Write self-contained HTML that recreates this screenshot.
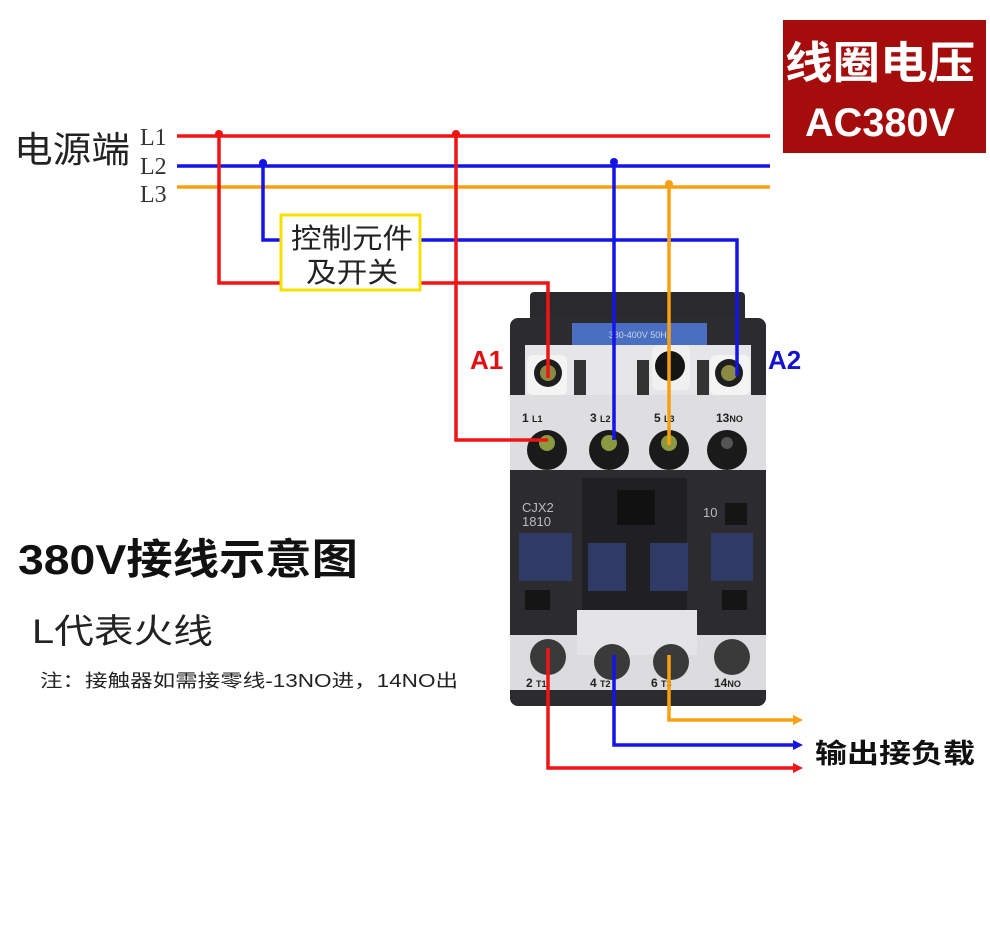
<!DOCTYPE html>
<html><head><meta charset="utf-8"><style>
body{margin:0;background:#fff;}
svg text{font-family:"Liberation Sans","Noto Sans CJK SC",sans-serif;}
svg text.serif{font-family:"Liberation Serif","Noto Serif CJK SC",serif;}
</style></head><body>
<svg width="990" height="921" viewBox="0 0 990 921" xmlns="http://www.w3.org/2000/svg">
<rect width="990" height="921" fill="#fff"/>
<rect x="783" y="20" width="203" height="133" fill="#a50d0d"/>
<text x="880" y="78" text-anchor="middle" font-size="44" font-weight="bold" fill="#fff" textLength="190" lengthAdjust="spacingAndGlyphs">线圈电压</text>
<text x="880" y="136" text-anchor="middle" font-size="40" font-weight="bold" fill="#fff" textLength="150" lengthAdjust="spacingAndGlyphs">AC380V</text>
<text x="14" y="162" font-size="36" fill="#222" textLength="116" lengthAdjust="spacingAndGlyphs">电源端</text>
<text class="serif" x="140" y="145" font-size="24" fill="#333">L1</text>
<text class="serif" x="140" y="174" font-size="24" fill="#333">L2</text>
<text class="serif" x="140" y="202" font-size="24" fill="#333">L3</text>
<rect x="530" y="292" width="215" height="45" rx="4" fill="#2a2a2e"/>
<rect x="510" y="318" width="256" height="388" rx="8" fill="#2c2c30"/>
<rect x="572" y="323" width="135" height="22" fill="#4a6fc0"/>
<text x="640" y="338" text-anchor="middle" font-size="9" fill="#c8d4f0">380-400V 50Hz</text>
<rect x="525" y="345" width="226" height="52" fill="#e6e6e8"/>
<rect x="527" y="355" width="40" height="40" rx="6" fill="#f4f4f4"/>
<rect x="652" y="345" width="38" height="45" rx="6" fill="#f0f0f0"/>
<rect x="710" y="355" width="40" height="40" rx="6" fill="#f4f4f4"/>
<rect x="510" y="395" width="256" height="75" fill="#dedee0"/>
<rect x="574" y="360" width="12" height="35" fill="#333"/>
<rect x="637" y="360" width="12" height="35" fill="#333"/>
<rect x="697" y="360" width="12" height="35" fill="#333"/>
<circle cx="548" cy="373" r="14" fill="#1e1e1e"/><circle cx="548" cy="373" r="8" fill="#8a8a45"/>
<circle cx="670" cy="366" r="15" fill="#151515"/>
<circle cx="729" cy="373" r="14" fill="#1e1e1e"/><circle cx="729" cy="373" r="8" fill="#8a8a45"/>
<g font-size="12" font-weight="bold" fill="#222">
<text x="522" y="422">1 <tspan font-size="9">L1</tspan></text>
<text x="590" y="422">3 <tspan font-size="9">L2</tspan></text>
<text x="654" y="422">5 <tspan font-size="9">L3</tspan></text>
<text x="716" y="422">13<tspan font-size="9">NO</tspan></text>
</g>
<g fill="#1a1a1a">
<circle cx="547" cy="450" r="20"/><circle cx="609" cy="450" r="20"/><circle cx="669" cy="450" r="20"/><circle cx="727" cy="450" r="20"/>
</g>
<g fill="#8a9a40"><circle cx="547" cy="443" r="8"/><circle cx="609" cy="443" r="8"/><circle cx="669" cy="443" r="8"/><circle cx="727" cy="443" r="6" fill="#555"/></g>
<rect x="582" y="478" width="105" height="145" fill="#202024"/>
<rect x="617" y="490" width="38" height="35" fill="#111"/>
<text x="522" y="512" font-size="13" fill="#bbb">CJX2</text>
<text x="522" y="526" font-size="13" fill="#bbb">1810</text>
<text x="703" y="517" font-size="13" fill="#bbb">10</text>
<rect x="725" y="503" width="22" height="22" fill="#151515"/>
<g fill="#2f3a66">
<rect x="519" y="533" width="53" height="48"/><rect x="588" y="543" width="38" height="48"/>
<rect x="650" y="543" width="38" height="48"/><rect x="711" y="533" width="42" height="48"/>
</g>
<rect x="525" y="590" width="25" height="20" fill="#151515"/>
<rect x="722" y="590" width="25" height="20" fill="#151515"/>
<rect x="510" y="635" width="256" height="55" fill="#dcdcde"/>
<rect x="577" y="610" width="120" height="45" fill="#e4e4e6"/>
<g fill="#3a3a3a"><circle cx="548" cy="657" r="18"/><circle cx="612" cy="662" r="18"/><circle cx="671" cy="662" r="18"/><circle cx="732" cy="657" r="18"/></g>
<g font-size="12" font-weight="bold" fill="#222">
<text x="526" y="687">2 <tspan font-size="9">T1</tspan></text>
<text x="590" y="687">4 <tspan font-size="9">T2</tspan></text>
<text x="651" y="687">6 <tspan font-size="9">T3</tspan></text>
<text x="714" y="687">14<tspan font-size="9">NO</tspan></text>
</g>
<g fill="none" stroke-width="3.5">
<path d="M177 136H770" stroke="#f01414"/>
<path d="M177 166H770" stroke="#1414e6"/>
<path d="M177 187H770" stroke="#f8a010"/>
<path d="M219 136V283H281M420 283H548V378" stroke="#f01414"/>
<path d="M263 166V240H281M420 240H737V376" stroke="#1414e6"/>
<path d="M456 136V440H548" stroke="#f01414"/>
<path d="M614 163V440" stroke="#1414e6"/>
<path d="M669 185V445" stroke="#f8a010"/>
<path d="M548 648V768H795" stroke="#f01414"/>
<path d="M614 655V745H795" stroke="#1414e6"/>
<path d="M669 655V720H795" stroke="#f8a010"/>
</g>
<circle cx="219" cy="134" r="4" fill="#f01414"/><circle cx="456" cy="134" r="4" fill="#f01414"/>
<circle cx="263" cy="163" r="4" fill="#1414e6"/><circle cx="614" cy="162" r="4" fill="#1414e6"/>
<circle cx="669" cy="184" r="4" fill="#f8a010"/>
<path d="M793 715L803 720L793 725Z" fill="#f8a010"/>
<path d="M793 740L803 745L793 750Z" fill="#1414e6"/>
<path d="M793 763L803 768L793 773Z" fill="#f01414"/>
<rect x="281" y="215" width="139" height="75" fill="#fff" stroke="#f5e000" stroke-width="3"/>
<text x="352" y="248" text-anchor="middle" font-size="28" fill="#222" textLength="122" lengthAdjust="spacingAndGlyphs">控制元件</text>
<text x="352" y="282" text-anchor="middle" font-size="28" fill="#222" textLength="92" lengthAdjust="spacingAndGlyphs">及开关</text>
<text x="470" y="369" font-size="26" font-weight="bold" fill="#e01010">A1</text>
<text x="768" y="369" font-size="26" font-weight="bold" fill="#1414d0">A2</text>
<text x="18" y="574" font-size="42" font-weight="bold" fill="#111" textLength="340" lengthAdjust="spacingAndGlyphs">380V接线示意图</text>
<text x="32" y="643" font-size="34" fill="#222" textLength="181" lengthAdjust="spacingAndGlyphs">L代表火线</text>
<text x="40" y="687" font-size="18" fill="#222" textLength="418" lengthAdjust="spacingAndGlyphs">注：接触器如需接零线-13NO进，14NO出</text>
<text x="815" y="763" font-size="27" font-weight="bold" fill="#111" textLength="160" lengthAdjust="spacingAndGlyphs">输出接负载</text>
</svg>
</body></html>
